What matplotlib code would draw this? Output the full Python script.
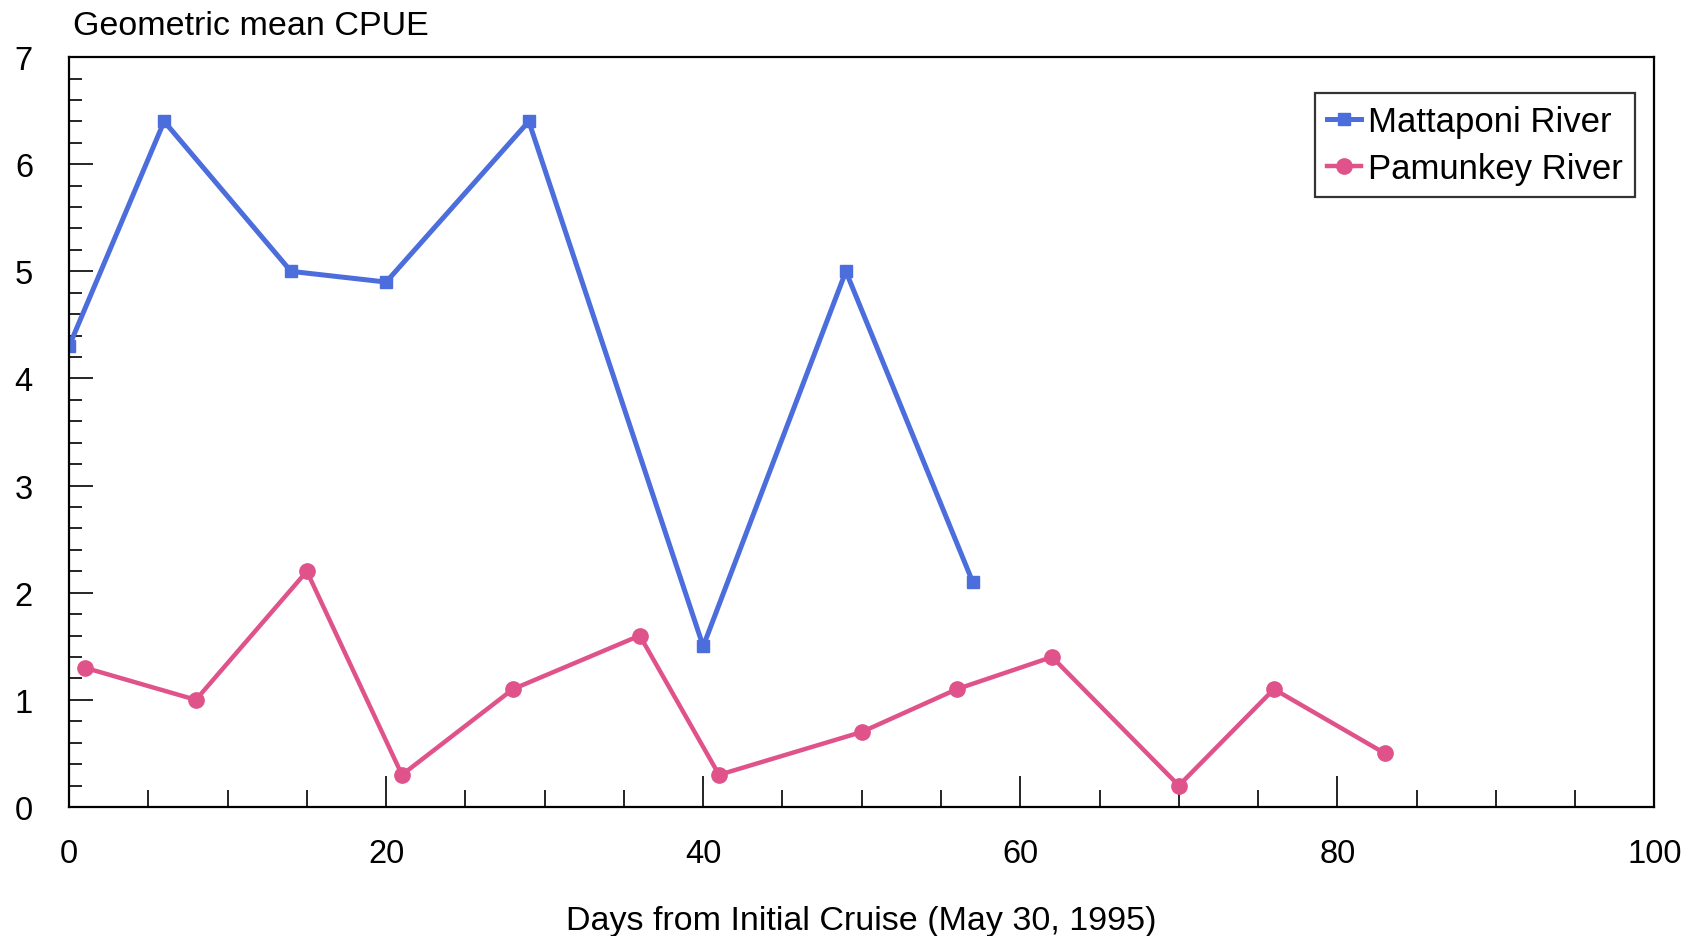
import numpy as np
import matplotlib
matplotlib.use("Agg")
import matplotlib.pyplot as plt
from matplotlib.ticker import MultipleLocator

plt.rcParams['font.family'] = ['Liberation Sans', 'DejaVu Sans']

# Geometric mean CPUE by days since the first cruise
matt_days = [0, 6, 14, 20, 29, 40, 49, 57]
matt_cpue = [4.3, 6.4, 5.0, 4.9, 6.4, 1.5, 5.0, 2.1]

pam_days = [1, 8, 15, 21, 28, 36, 41, 50, 56, 62, 70, 76, 83]
pam_cpue = [1.3, 1.0, 2.2, 0.3, 1.1, 1.6, 0.3, 0.7, 1.1, 1.4, 0.2, 1.1, 0.5]

blue = '#4c6ddc'
pink = '#e0528a'

fig = plt.figure(figsize=(16.92, 9.37), dpi=100)
ax = fig.add_axes([0.0408, 0.1377, 0.937, 0.8003])

ax.plot(matt_days, matt_cpue, color=blue, lw=3.6, marker='s', ms=9,
        label='Mattaponi River')
ax.plot(pam_days, pam_cpue, color=pink, lw=3.2, marker='o', ms=11,
        label='Pamunkey River')

ax.set_xlim(0, 100)
ax.set_ylim(0, 7)
ax.xaxis.set_major_locator(MultipleLocator(20))
ax.xaxis.set_minor_locator(MultipleLocator(5))
ax.yaxis.set_major_locator(MultipleLocator(1))
ax.yaxis.set_minor_locator(MultipleLocator(0.2))

ax.tick_params(axis='x', which='major', direction='in', length=22, width=1.2,
               pad=22, labelsize=23.5)
ax.tick_params(axis='x', which='minor', direction='in', length=12, width=1.2)
ax.tick_params(axis='y', which='major', direction='in', length=17, width=1.2,
               pad=26, labelsize=23.5)
ax.tick_params(axis='y', which='minor', direction='in', length=9, width=1.2)

for s in ax.spines.values():
    s.set_linewidth(1.6)

ax.set_xlabel('Days from Initial Cruise (May 30, 1995)', fontsize=24.5,
              labelpad=26)
fig.text(0.043, 0.972, 'Geometric mean CPUE', fontsize=24.5, va='center',
         ha='left')

leg = ax.legend(loc='upper right', bbox_to_anchor=(0.988, 0.952),
                fontsize=25, frameon=True, fancybox=False, handlelength=1.0,
                handletextpad=0.2, borderpad=0.35, labelspacing=0.4,
                borderaxespad=0)
leg.get_frame().set_edgecolor('black')
leg.get_frame().set_linewidth(1.6)

fig.savefig('out.png', dpi=100)
